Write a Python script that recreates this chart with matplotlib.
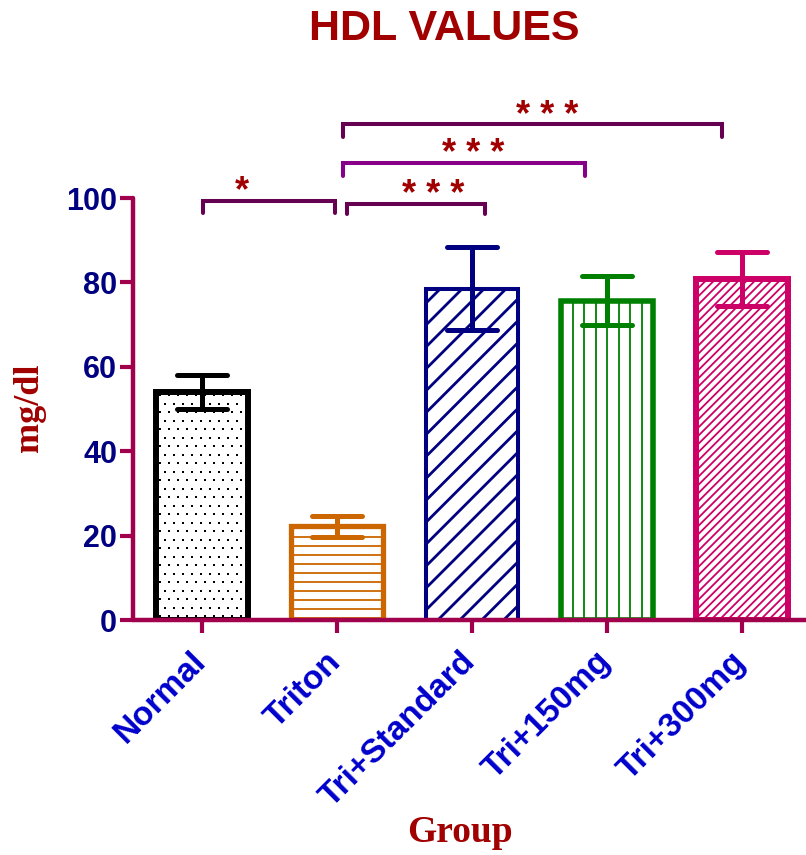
import numpy as np
import matplotlib
matplotlib.use("Agg")
import matplotlib.pyplot as plt
from matplotlib.markers import MarkerStyle
from matplotlib.transforms import ScaledTranslation

# ---- data ----
groups = ["Normal", "Triton", "Tri+Standard", "Tri+150mg", "Tri+300mg"]
means = [54.0, 22.2, 78.5, 75.7, 80.8]
sems = [4.1, 2.5, 9.8, 5.8, 6.4]
bar_colors = ["#000000", "#CC6600", "#000080", "#008000", "#CC0066"]

# significance brackets: (start group, end group, label)
comparisons = [(0, 1, "*"), (1, 2, "* * *"), (1, 3, "* * *"), (1, 4, "* * *")]
yticks = [0, 20, 40, 60, 80, 100]

SPINE = "#A0004C"
DARKRED = "#A00000"

fig = plt.figure(figsize=(8.06, 8.55), dpi=100)
ax = fig.add_axes([133 / 806, 235 / 855, 673 / 806, 422 / 855])
ax.set_xlim(-0.511, 4.474)
ax.set_ylim(0, 100)

x = np.arange(len(groups))
width = 0.68
edge_w = [4.3, 3.8, 2.9, 4.0, 4.3]
bars = ax.bar(x, means, width=width, facecolor="white", edgecolor=bar_colors,
              linewidth=edge_w, zorder=2)

fig.canvas.draw()


def to_data(px, py):
    inv = ax.transData.inverted()
    pts = inv.transform(np.column_stack([px, py]))
    return pts[:, 0], pts[:, 1]


def fill_lines(bar, color, angle, spacing, lw):
    """Draw parallel hatch lines inside a bar, spacing given in pixels."""
    bb = bar.get_window_extent()
    x0, x1, y0, y1 = bb.x0, bb.x1, bb.y0, bb.y1
    diag = np.hypot(x1 - x0, y1 - y0)
    cx, cy = (x0 + x1) / 2, (y0 + y1) / 2
    th = np.deg2rad(angle)
    d = np.array([np.cos(th), np.sin(th)])
    n = np.array([-np.sin(th), np.cos(th)])
    k = int(diag / spacing) + 2
    for i in range(-k, k + 1):
        c = np.array([cx, cy]) + n * i * spacing
        p0 = c - d * diag
        p1 = c + d * diag
        xs, ys = to_data([p0[0], p1[0]], [p0[1], p1[1]])
        ln, = ax.plot(xs, ys, color=color, lw=lw, zorder=2.1, solid_capstyle="butt")
        ln.set_clip_path(bar)


def fill_dots(bar, color, dx, dy, size):
    bb = bar.get_window_extent()
    ys = np.arange(bb.y0 + 4, bb.y1, dy)
    px, py = [], []
    for j, yy in enumerate(ys):
        off = 0 if j % 2 == 0 else dx / 2
        xs = np.arange(bb.x0 + 4 + off, bb.x1, dx)
        px.extend(xs)
        py.extend([yy] * len(xs))
    xd, yd = to_data(px, py)
    ln, = ax.plot(xd, yd, ls="none", marker="s", ms=size, color=color,
                  mew=0, zorder=2.1)
    ln.set_clip_path(bar)


fill_dots(bars[0], bar_colors[0], 9.0, 8.5, 2.0)
fill_lines(bars[1], bar_colors[1], 0, 9.0, 1.3)
fill_lines(bars[2], bar_colors[2], 45, 15.5, 2.0)
fill_lines(bars[3], bar_colors[3], 90, 11.5, 1.3)
fill_lines(bars[4], bar_colors[4], 45, 5.8, 1.3)

# error bars
cap_marker = MarkerStyle("_", capstyle="round")
for i in range(len(groups)):
    _, caps, lines = ax.errorbar(x[i], means[i], yerr=sems[i], fmt="none",
                                 ecolor=bar_colors[i], elinewidth=3.6,
                                 capsize=18, capthick=3.6, zorder=3)
    for c in caps:
        c.set_marker(cap_marker)

# significance brackets
br_colors = ["#660050", "#660050", "#880088", "#660050"]
br_x = [(0.007, 0.985), (1.074, 2.096), (1.044, 2.837), (1.044, 3.852)]
br_y = [(99.3, 96.4), (98.6, 96.2), (108.3, 105.2), (117.5, 114.5)]
star_xy = [(0.296, 101.4), (1.71, 100.6), (2.01, 110.4), (2.56, 119.2)]
for (a, b, lab), (xa, xb), (yt, yb), col, (sx, sy) in zip(
        comparisons, br_x, br_y, br_colors, star_xy):
    ax.plot([xa, xa, xb, xb], [yb, yt, yt, yb], color=col, lw=2.9,
            solid_capstyle="round", solid_joinstyle="miter", clip_on=False)
    ax.text(sx, sy, lab, ha="center", va="center", fontsize=26,
            fontweight="bold", color=DARKRED, family="Liberation Sans")

# axes styling
for s in ["top", "right"]:
    ax.spines[s].set_visible(False)
for s in ["left", "bottom"]:
    ax.spines[s].set_color(SPINE)
    ax.spines[s].set_linewidth(3.2)
    ax.spines[s].set_capstyle("round")

ax.set_yticks(yticks)
ax.set_yticklabels([str(v) for v in yticks], fontsize=22, fontweight="bold",
                   color="#000080", family="Liberation Sans")
ax.set_xticks(x)
ax.set_xticklabels([])
# rotated group names, anchored just below each tick
label_shift = ax.transData + ScaledTranslation(-0.12, -0.26, fig.dpi_scale_trans)
for xi, name in zip(x, groups):
    ax.text(xi, 0, name, transform=label_shift, rotation=45, ha="right",
            va="top", rotation_mode="anchor", fontsize=24, fontweight="bold",
            color="#0000CC", family="Liberation Sans", clip_on=False)
ax.tick_params(axis="both", direction="out", length=9.5, width=3.0,
               color=SPINE)
ax.tick_params(axis="y", pad=2)

fig.text(444 / 806, 1 - 29 / 855, "HDL VALUES", ha="center", va="center",
         fontsize=31, fontweight="bold", color=DARKRED, family="Liberation Sans")
fig.text(30 / 806, 1 - 408 / 855, "mg/dl", ha="center", va="center",
         rotation=90, fontsize=26, fontweight="bold", color=DARKRED,
         family="Liberation Serif")
fig.text(460 / 806, 1 - 832 / 855, "Group", ha="center", va="center",
         fontsize=27, fontweight="bold", color=DARKRED,
         family="Liberation Serif")

fig.savefig("out.png", dpi=100)
